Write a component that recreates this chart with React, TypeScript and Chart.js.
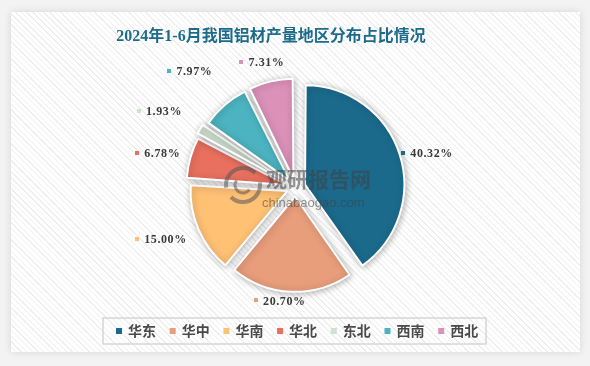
import React, { useEffect, useRef } from 'react';
import { Chart, registerables } from 'chart.js';

Chart.register(...registerables);

const categories = ['华东', '华中', '华南', '华北', '东北', '西南', '西北'];
const shares = [40.32, 20.7, 15.0, 6.78, 1.93, 7.97, 7.31];
const shareLabels = ['40.32%', '20.70%', '15.00%', '6.78%', '1.93%', '7.97%', '7.31%'];
const colors = ['#1b6a8c', '#e89d7b', '#ffc174', '#e9705f', '#d0e2cf', '#4bb4c0', '#dc91b9'];
const titleText = '2024年1-6月我国铝材产量地区分布占比情况';

// annotation label layout: distance from pie centre and small angular nudge (degrees)
const labelDistance = [136, 114, 144, 142, 156, 157, 130];
const labelAngleNudge = [2.8, 5.5, 2.4, -1.8, -2.2, -1.6, -1.8];

const shadowPlugin = {
  id: 'sliceShadow',
  beforeDatasetsDraw(chart: any) {
    const c = chart.ctx;
    c.save();
    c.shadowColor = 'rgba(0,0,0,0.3)';
    c.shadowBlur = 7;
    c.shadowOffsetX = 1;
    c.shadowOffsetY = 1;
  },
  afterDatasetsDraw(chart: any) {
    chart.ctx.restore();
  },
};

const decorPlugin = {
  id: 'decor',
  afterDraw(chart: any) {
    const c: CanvasRenderingContext2D = chart.ctx;
    const meta = chart.getDatasetMeta(0);
    // data labels
    c.save();
    c.font = 'bold 12px "Liberation Serif", "Noto Sans CJK SC", serif';
    (c as any).letterSpacing = '0.6px';
    c.textBaseline = 'middle';
    c.textAlign = 'left';
    meta.data.forEach((arc: any, i: number) => {
      const p = arc.getProps(['x', 'y', 'startAngle', 'endAngle'], true);
      const mid = (p.startAngle + p.endAngle) / 2 + (labelAngleNudge[i] * Math.PI) / 180;
      const d = labelDistance[i];
      const cx = p.x + Math.cos(mid) * d;
      const cy = p.y + Math.sin(mid) * d;
      const txt = shareLabels[i];
      const w = c.measureText(txt).width;
      const boxW = 4 + 5 + w;
      const left = cx - boxW / 2;
      c.fillStyle = colors[i];
      c.fillRect(Math.round(left), Math.round(cy - 2), 4, 4);
      c.fillStyle = '#3a3a3a';
      c.fillText(txt, left + 9, cy + 1);
    });
    c.restore();

    // watermark
    c.save();
    c.globalAlpha = 0.55;
    c.strokeStyle = '#555555';
    c.lineWidth = 4;
    c.beginPath();
    c.arc(243, 185, 17, Math.PI * 0.95, Math.PI * 1.75);
    c.stroke();
    c.beginPath();
    c.arc(243, 185, 17, Math.PI * -0.05, Math.PI * 0.75);
    c.stroke();
    c.lineWidth = 3;
    c.beginPath();
    c.arc(243, 185, 8, Math.PI * 0.2, Math.PI * 1.2);
    c.stroke();
    c.fillStyle = '#404040';
    c.textBaseline = 'middle';
    c.textAlign = 'left';
    c.font = 'bold 21px "Noto Sans CJK SC", sans-serif';
    c.fillText('观研报告网', 266, 179);
    c.font = '13px "Liberation Sans", sans-serif';
    c.fillText('chinabaogao.com', 262, 203);
    c.restore();

    // title
    c.save();
    c.font = 'bold 16px "Liberation Serif", "Noto Sans CJK SC", serif';
    c.fillStyle = '#1d6b8b';
    c.textAlign = 'center';
    c.textBaseline = 'middle';
    c.fillText(titleText, 271, 37);
    c.restore();

    // legend
    c.save();
    const boxL = 103, boxT = 318, boxW = 383, boxH = 26;
    c.strokeStyle = '#d6d6d6';
    c.lineWidth = 1.5;
    c.strokeRect(boxL, boxT, boxW, boxH);
    c.font = 'bold 14px "Noto Sans CJK SC", sans-serif';
    c.textBaseline = 'middle';
    c.textAlign = 'left';
    let x = boxL + 13;
    const ly = boxT + boxH / 2;
    categories.forEach((name, i) => {
      c.fillStyle = colors[i];
      c.fillRect(x, ly - 3, 6, 6);
      c.fillStyle = '#4a4a4a';
      c.fillText(name, x + 12, ly);
      x += 12 + c.measureText(name).width + 13.7;
    });
    c.restore();
  },
};

export default function App() {
  const ref = useRef<HTMLCanvasElement | null>(null);
  useEffect(() => {
    if (!ref.current) return;
    const chart = new Chart(ref.current, {
      type: 'pie',
      data: {
        labels: categories,
        datasets: [
          {
            data: shares,
            backgroundColor: colors,
            borderColor: '#ffffff',
            borderWidth: 2,
            offset: [40, 36, 36, 36, 36, 36, 36],
            hoverOffset: 0,
          } as any,
        ],
      },
      options: {
        responsive: false,
        animation: false,
        devicePixelRatio: 1,
        radius: 95,
        layout: { padding: { left: 1, right: 0, top: 9, bottom: 0 } },
        plugins: {
          legend: { display: false },
          title: { display: false },
          tooltip: { enabled: false },
        },
        events: [],
      } as any,
      plugins: [shadowPlugin, decorPlugin],
    });
    return () => chart.destroy();
  }, []);

  return (
    <div style={{ position: 'fixed', left: 0, top: 0, width: 590, height: 366, background: '#f3f3f3', overflow: 'hidden' }}>
      <div
        style={{
          position: 'absolute',
          left: 11,
          top: 12,
          width: 569,
          height: 340,
          backgroundColor: '#ffffff',
          backgroundImage: 'repeating-linear-gradient(45deg, #ffffff 0px, #ffffff 3px, #eeeeee 3px, #eeeeee 4px)',
          boxShadow: '0 0 8px rgba(0,0,0,0.12)',
        }}
      />
      <canvas ref={ref} width={590} height={366} style={{ position: 'absolute', left: 0, top: 0, width: 590, height: 366 }} />
    </div>
  );
}
